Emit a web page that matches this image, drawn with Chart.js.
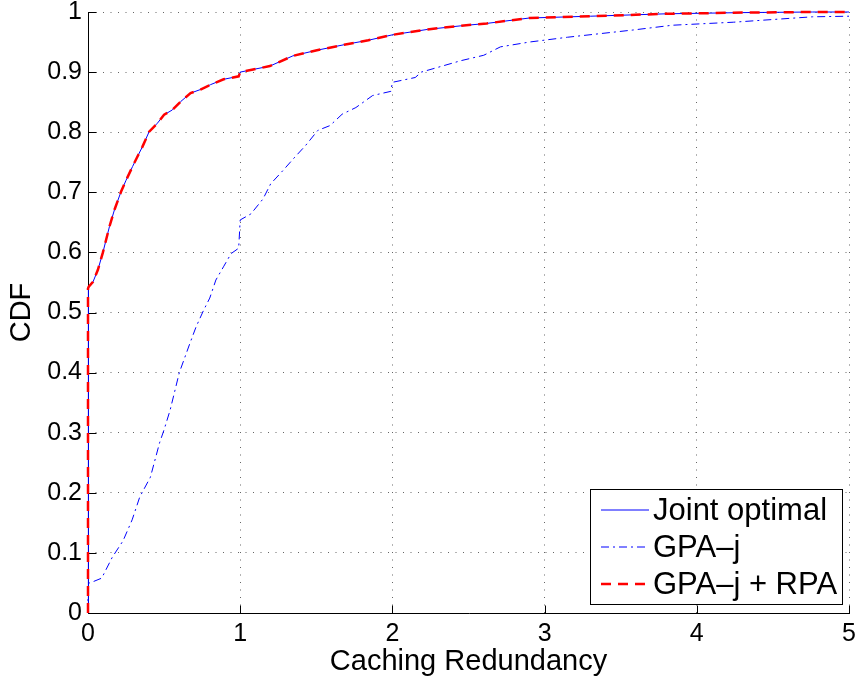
<!DOCTYPE html>
<html>
<head>
<meta charset="utf-8">
<script src="https://cdn.jsdelivr.net/npm/chart.js@4/dist/chart.umd.min.js"></script>
<style>
  html, body { margin: 0; padding: 0; background: #fff; }
  #wrap { width: 859px; height: 684px; }
</style>
</head>
<body>
<div id="wrap"><canvas id="chart" width="859" height="684"></canvas></div>
<script>
// values
var seriesNames = ["Joint optimal", "GPA\u2013j", "GPA\u2013j + RPA"];

var jointX = [0, 0, 0.005, 0.033, 0.065, 0.098, 0.141, 0.174, 0.217, 0.25, 0.293, 0.326, 0.358, 0.402, 0.456, 0.5, 0.554, 0.609, 0.674, 0.739,
    0.804, 0.891, 0.99, 1.0, 1.195, 1.346, 1.497, 1.691, 1.842, 2.0, 2.23, 2.45, 2.62, 2.9, 3.3, 3.8, 4.3, 4.76, 5];
var jointY = [0, 0.54, 0.543, 0.551, 0.571, 0.6, 0.643, 0.671, 0.701, 0.72, 0.743, 0.76, 0.776, 0.801, 0.815, 0.829, 0.837, 0.851, 0.865, 0.871,
    0.879, 0.888, 0.893, 0.9, 0.91, 0.927, 0.936, 0.946, 0.953, 0.962, 0.971, 0.977, 0.981, 0.99, 0.993, 0.997, 0.999, 1.0, 1.0];

var gpaX = [0, 0, 0.013, 0.09, 0.16, 0.23, 0.29, 0.34, 0.41, 0.47, 0.5, 0.54, 0.6, 0.67, 0.71, 0.76, 0.8, 0.84, 0.89, 0.94,
    0.99, 1.0, 1.07, 1.15, 1.2, 1.28, 1.35, 1.43, 1.51, 1.59, 1.67, 1.76, 1.87, 1.99, 2.0, 2.15, 2.19, 2.3, 2.45, 2.6,
    2.71, 2.9, 3.15, 3.58, 3.84, 4.24, 4.76, 5];
var gpaY = [0, 0.05, 0.05, 0.058, 0.093, 0.12, 0.155, 0.193, 0.226, 0.283, 0.305, 0.338, 0.4, 0.449, 0.476, 0.504, 0.524, 0.554, 0.576, 0.598,
    0.607, 0.654, 0.664, 0.689, 0.714, 0.736, 0.756, 0.778, 0.803, 0.811, 0.83, 0.841, 0.861, 0.868, 0.883, 0.891, 0.9, 0.908, 0.919, 0.928,
    0.942, 0.95, 0.958, 0.97, 0.978, 0.983, 0.992, 0.993];

// GPA-j + RPA lies on top of the joint optimal curve
var rpaX = jointX.slice();
var rpaY = jointY.slice();

var xTicks = [0, 1, 2, 3, 4, 5];
var yTicks = [0, 0.1, 0.2, 0.3, 0.4, 0.5, 0.6, 0.7, 0.8, 0.9, 1];

function toPoints(xs, ys) {
    return xs.map(function (x, i) { return {x: x, y: ys[i]}; });
}

var FONT = "'Liberation Sans', Arial, Helvetica, sans-serif";

// solid left/bottom axes and matlab style ticks pointing into the plot
// (drawn under the curves, the x=0 jumps sit on the axis line)
var innerTicks = {
    id: 'innerTicks',
    beforeDatasetsDraw: function (chart) {
        var c = chart.ctx, a = chart.chartArea;
        var xs = chart.scales.x, ys = chart.scales.y;
        var l = Math.round(a.left) + 0.5, b = Math.round(a.bottom) + 0.5;
        c.save();
        c.strokeStyle = '#000';
        c.lineWidth = 1;
        c.setLineDash([]);
        c.beginPath();
        c.moveTo(l, Math.round(a.top));
        c.lineTo(l, b);
        c.lineTo(Math.round(a.right) + 1, b);
        xTicks.forEach(function (v) {
            var px = Math.round(xs.getPixelForValue(v)) + 0.5;
            c.moveTo(px, b);
            c.lineTo(px, b - 8);
        });
        yTicks.forEach(function (v) {
            var py = Math.round(ys.getPixelForValue(v)) + 0.5;
            c.moveTo(l, py);
            c.lineTo(l + 8, py);
        });
        c.stroke();
        c.restore();
    }
};

// boxed legend in the lower right corner
var boxLegend = {
    id: 'boxLegend',
    afterDraw: function (chart) {
        var c = chart.ctx, a = chart.chartArea;
        var w = 252, h = 115;
        var left = a.right - 7 - w, top = a.bottom - 9 - h;
        c.save();
        c.fillStyle = '#fff';
        c.fillRect(left, top, w, h);
        c.strokeStyle = '#000';
        c.lineWidth = 1;
        c.setLineDash([]);
        c.strokeRect(Math.round(left) + 0.5, Math.round(top) + 0.5, w, h);
        c.font = '31px ' + FONT;
        c.textBaseline = 'middle';
        c.fillStyle = '#000';
        chart.data.datasets.forEach(function (ds, i) {
            var y = top + 21 + i * 37;
            c.beginPath();
            c.strokeStyle = ds.borderColor;
            c.lineWidth = ds.borderWidth;
            c.setLineDash(ds.borderDash || []);
            c.moveTo(left + 11, y);
            c.lineTo(left + 59, y);
            c.stroke();
            c.setLineDash([]);
            c.fillText(ds.label, left + 63, y + 1);
        });
        c.restore();
    }
};

function noPad(s) {
    s.paddingTop = 0;
    s.paddingBottom = 0;
    s.paddingLeft = 0;
    s.paddingRight = 0;
}

var ctx = document.getElementById('chart').getContext('2d');
var cdfChart = new Chart(ctx, {
    type: 'scatter',
    data: {
        datasets: [{
            label: seriesNames[0],
            data: toPoints(jointX, jointY),
            borderColor: '#0000ff',
            borderWidth: 1,
            clip: false,
            order: 3
        }, {
            label: seriesNames[1],
            data: toPoints(gpaX, gpaY),
            borderColor: '#0000ff',
            borderWidth: 1,
            borderDash: [8, 4, 2, 4],
            clip: false,
            order: 2
        }, {
            label: seriesNames[2],
            data: toPoints(rpaX, rpaY),
            borderColor: '#ff0000',
            borderWidth: 2.5,
            borderDash: [10, 7],
            clip: false,
            order: 1
        }]
    },
    plugins: [innerTicks, boxLegend],
    options: {
        responsive: false,
        animation: false,
        showLine: true,
        elements: {
            point: {radius: 0, hoverRadius: 0},
            line: {tension: 0, fill: false}
        },
        layout: {padding: {left: 0, top: 12, right: 10, bottom: 0}},
        plugins: {
            legend: {display: false},
            tooltip: {enabled: false}
        },
        scales: {
            x: {
                type: 'linear',
                min: 0,
                max: 5,
                afterFit: function (s) { s.height = 71; noPad(s); },
                afterBuildTicks: function (s) { s.ticks = xTicks.map(function (v) { return {value: v}; }); },
                ticks: {
                    color: '#000',
                    padding: 6,
                    maxRotation: 0,
                    font: {family: FONT, size: 25}
                },
                grid: {
                    color: '#666',
                    drawTicks: false,
                    lineWidth: 1
                },
                // in chart.js v4 the grid line dash lives under border
                border: {display: false, dash: [1, 6.5]},
                title: {
                    display: true,
                    text: 'Caching Redundancy',
                    color: '#000',
                    font: {family: FONT, size: 29},
                    padding: {top: 0, bottom: 4.6}
                }
            },
            y: {
                type: 'linear',
                min: 0,
                max: 1,
                afterFit: function (s) { s.width = 88; noPad(s); },
                afterBuildTicks: function (s) { s.ticks = yTicks.map(function (v) { return {value: v}; }); },
                ticks: {
                    color: '#000',
                    padding: 6,
                    font: {family: FONT, size: 25},
                    callback: function (v) { return String(+v.toFixed(1)); }
                },
                grid: {
                    color: '#666',
                    drawTicks: false,
                    lineWidth: 1
                },
                border: {display: false, dash: [1, 6.5]},
                title: {
                    display: true,
                    text: 'CDF',
                    color: '#000',
                    font: {family: FONT, size: 29},
                    padding: {top: 4.6, bottom: 0}
                }
            }
        }
    }
});
</script>
</body>
</html>
